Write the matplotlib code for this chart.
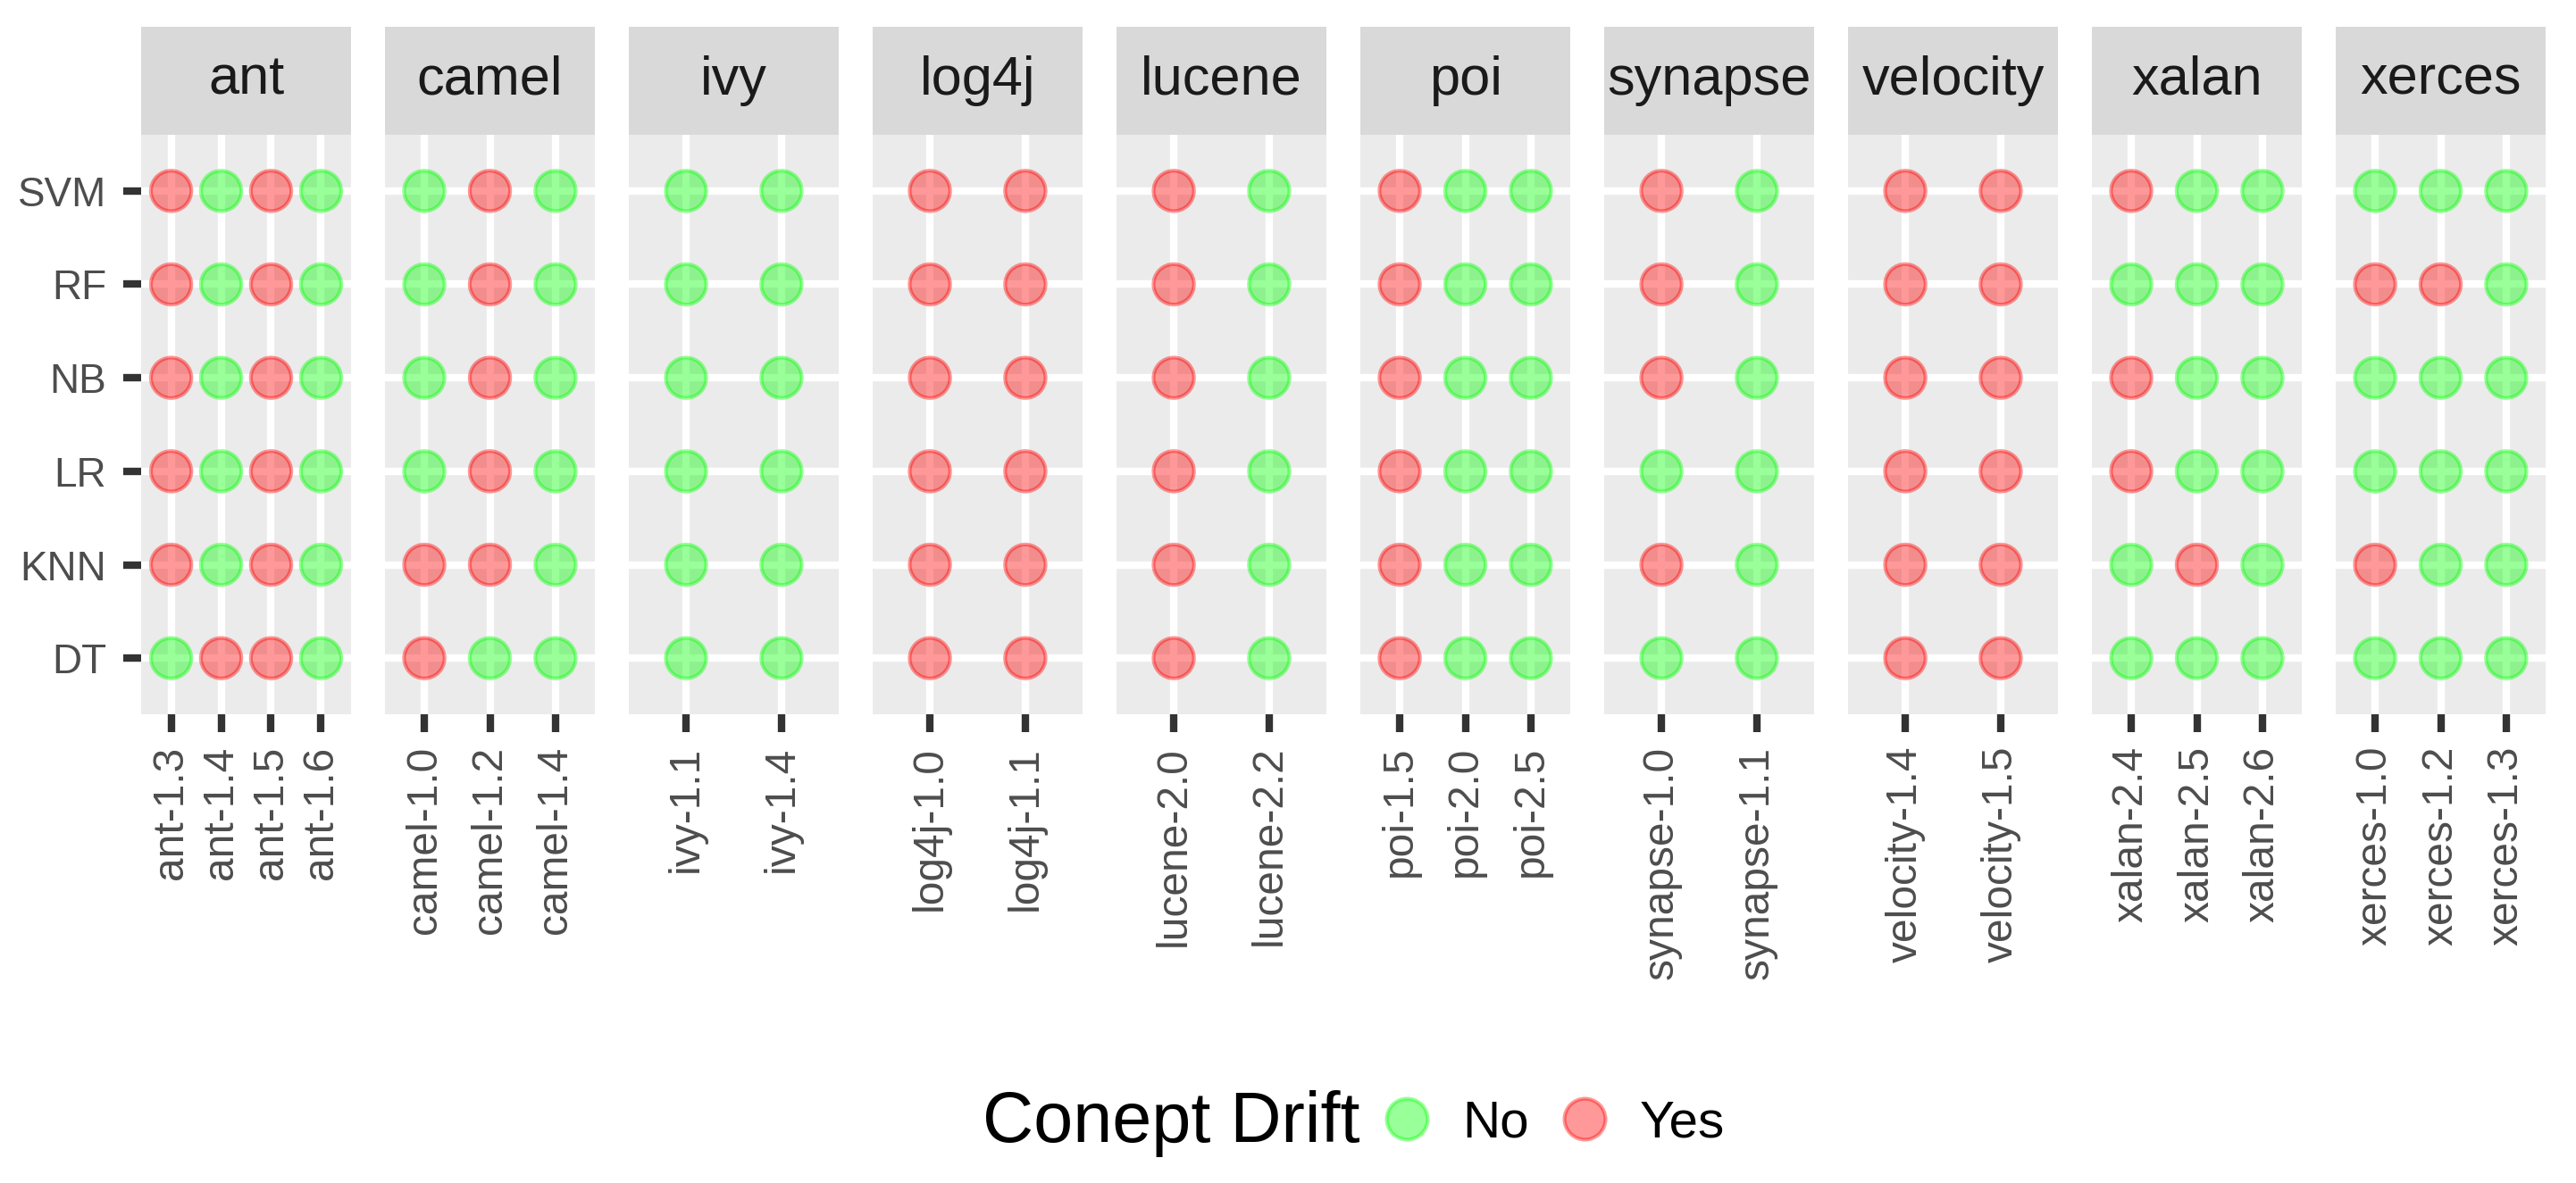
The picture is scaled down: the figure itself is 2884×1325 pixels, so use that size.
import matplotlib
matplotlib.use("Agg")
import matplotlib.pyplot as plt
from matplotlib.lines import Line2D

plt.rcParams['font.family'] = ['Liberation Sans', 'DejaVu Sans']

# данные: Y - есть дрейф концепции, N - нет
models = ["DT", "KNN", "LR", "NB", "RF", "SVM"]  # снизу вверх
projects = ["ant", "camel", "ivy", "log4j", "lucene",
            "poi", "synapse", "velocity", "xalan", "xerces"]
versions = {
    "ant": ["ant-1.3", "ant-1.4", "ant-1.5", "ant-1.6"],
    "camel": ["camel-1.0", "camel-1.2", "camel-1.4"],
    "ivy": ["ivy-1.1", "ivy-1.4"],
    "log4j": ["log4j-1.0", "log4j-1.1"],
    "lucene": ["lucene-2.0", "lucene-2.2"],
    "poi": ["poi-1.5", "poi-2.0", "poi-2.5"],
    "synapse": ["synapse-1.0", "synapse-1.1"],
    "velocity": ["velocity-1.4", "velocity-1.5"],
    "xalan": ["xalan-2.4", "xalan-2.5", "xalan-2.6"],
    "xerces": ["xerces-1.0", "xerces-1.2", "xerces-1.3"],
}
# строки в порядке SVM, RF, NB, LR, KNN, DT
drift = {
    "ant": ["YNYN", "YNYN", "YNYN", "YNYN", "YNYN", "NYYN"],
    "camel": ["NYN", "NYN", "NYN", "NYN", "YYN", "YNN"],
    "ivy": ["NN", "NN", "NN", "NN", "NN", "NN"],
    "log4j": ["YY", "YY", "YY", "YY", "YY", "YY"],
    "lucene": ["YN", "YN", "YN", "YN", "YN", "YN"],
    "poi": ["YNN", "YNN", "YNN", "YNN", "YNN", "YNN"],
    "synapse": ["YN", "YN", "YN", "NN", "YN", "NN"],
    "velocity": ["YY", "YY", "YY", "YY", "YY", "YY"],
    "xalan": ["YNN", "NNN", "YNN", "YNN", "NYN", "NNN"],
    "xerces": ["NNN", "YYN", "NNN", "NNN", "YNN", "NNN"],
}
rows_top_down = ["SVM", "RF", "NB", "LR", "KNN", "DT"]

col_no = (0.0, 1.0, 0.0, 0.4)
col_yes = (1.0, 0.0, 0.0, 0.4)

W, H = 2884, 1325
fig = plt.figure(figsize=(W / 300, H / 300), dpi=300)

left0 = 158
pw = 235
step = 273
p_top, p_bot = 151, 800
s_top = 30

for i, pr in enumerate(projects):
    x0 = left0 + i * step
    ax = fig.add_axes([x0 / W, 1 - p_bot / H, pw / W, (p_bot - p_top) / H])
    vs = versions[pr]
    xs, ys, cs = [], [], []
    for r, m in enumerate(rows_top_down):
        for j, v in enumerate(vs):
            xs.append(j)
            ys.append(models.index(m))
            cs.append(col_yes if drift[pr][r][j] == "Y" else col_no)
    ax.scatter(xs, ys, s=118, c=cs, edgecolors=cs, linewidths=1.0, zorder=3)
    ax.set_facecolor("#ebebeb")
    ax.set_xlim(-0.6, len(vs) - 0.4)
    ax.set_ylim(-0.6, len(models) - 0.4)
    ax.set_xticks(range(len(vs)))
    ax.set_xticklabels(vs, rotation=90, ha="center", va="top",
                       fontsize=11.5, color="#4d4d4d")
    ax.set_yticks(range(len(models)))
    ax.set_yticklabels(models, fontsize=11, color="#4d4d4d")
    ax.grid(True, color="white", linewidth=2.0)
    ax.set_axisbelow(True)
    for sp in ax.spines.values():
        sp.set_visible(False)
    ax.tick_params(axis="x", length=4.8, width=2.0, color="#333333", pad=3.8)
    ax.tick_params(axis="y", length=4.8, width=2.0, color="#333333", pad=4.5)
    if i > 0:
        ax.tick_params(axis="y", left=False, labelleft=False)

    # полоска с названием проекта
    st = fig.add_axes([x0 / W, 1 - p_top / H, pw / W, (p_top - s_top) / H])
    st.set_facecolor("#d9d9d9")
    st.set_xticks([])
    st.set_yticks([])
    for sp in st.spines.values():
        sp.set_visible(False)
    st.text(0.5, 0.5, pr, ha="center", va="center", fontsize=14.7,
            color="#1a1a1a", transform=st.transAxes)

# легенда
ly = 1 - 1258 / H
fig.text(1100 / W, ly, "Conept Drift", ha="left", va="center",
         fontsize=19, color="black")
handles = [
    Line2D([], [], linestyle="none", marker="o", markersize=11,
           markerfacecolor=col_no, markeredgecolor=col_no, markeredgewidth=1.0),
    Line2D([], [], linestyle="none", marker="o", markersize=11,
           markerfacecolor=col_yes, markeredgecolor=col_yes, markeredgewidth=1.0),
]
fig.legend(handles, ["No", "Yes"], ncol=2, loc="center left",
           bbox_to_anchor=(1552 / W, ly), frameon=False, fontsize=14,
           handlelength=0.8, handletextpad=0.67, columnspacing=0.65,
           borderpad=0, borderaxespad=0)

fig.savefig("out.png", dpi=300, facecolor="white")
